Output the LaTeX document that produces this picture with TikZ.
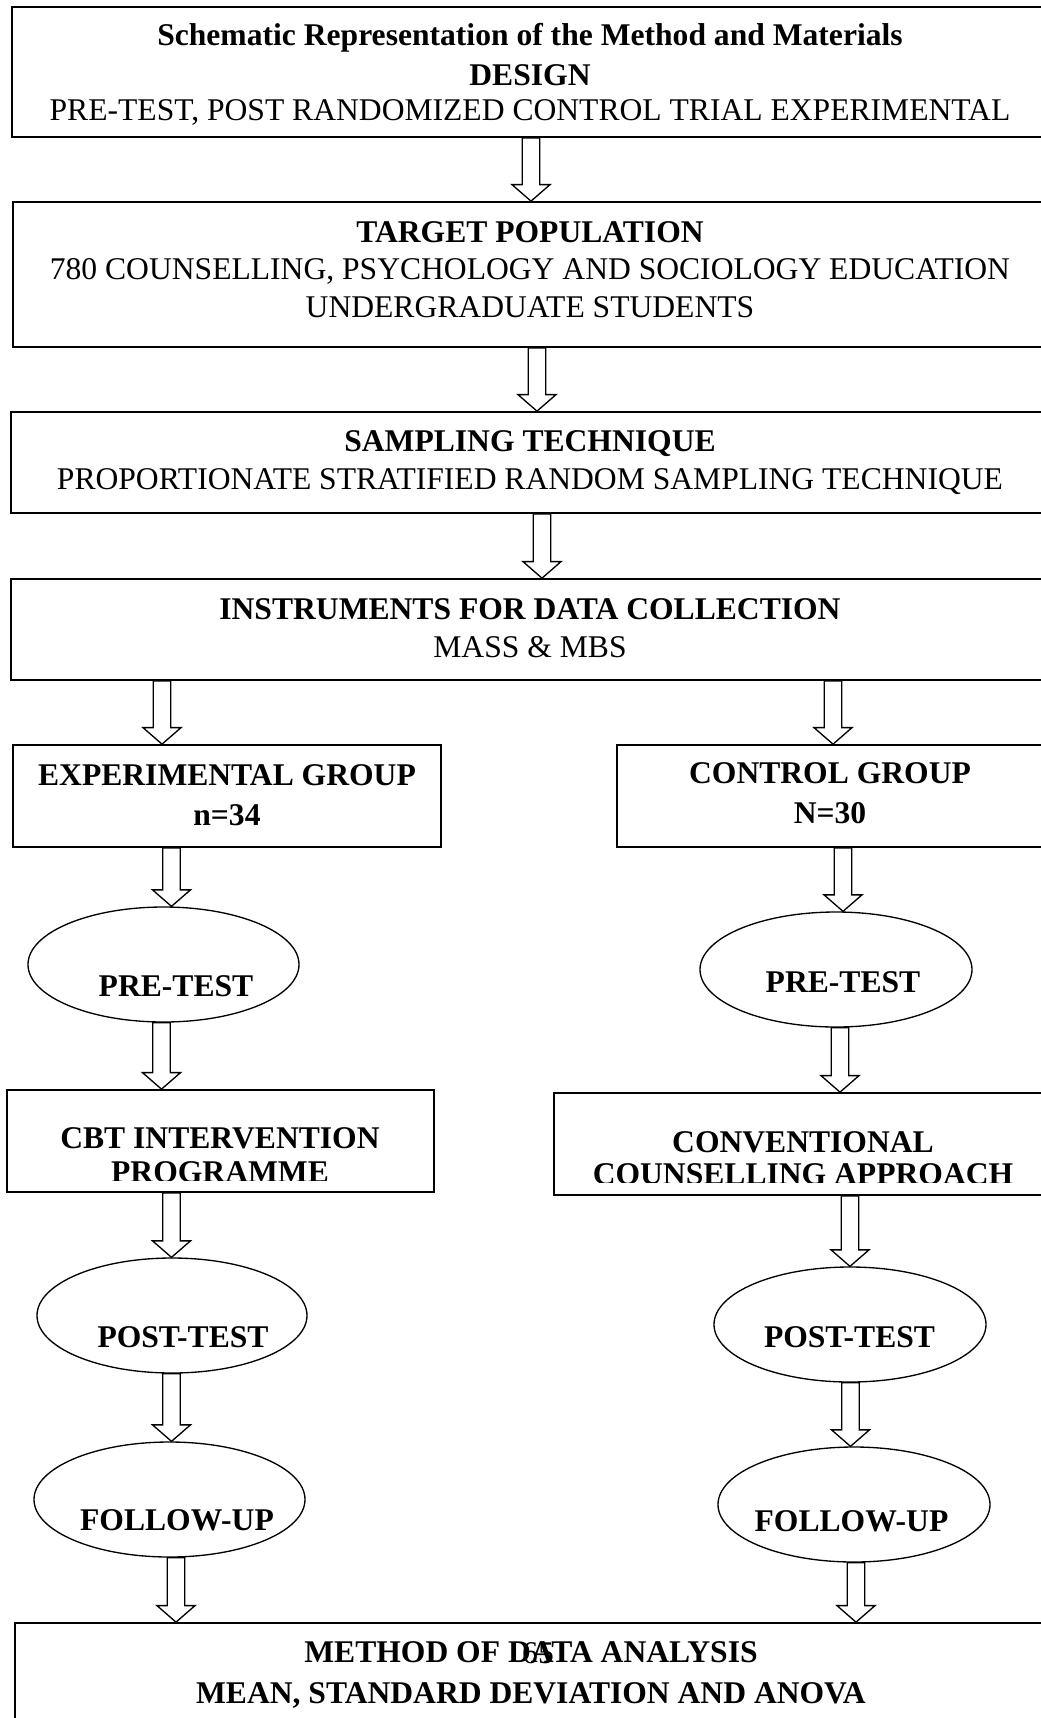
\documentclass[tikz,border=0pt]{standalone}
\usepackage{fontspec}
\setmainfont{Liberation Serif}
\usetikzlibrary{calc,fit,shapes.geometric}
\tikzset{
  box/.style={draw, line width=1.3pt, inner sep=0pt},
  ell/.style={draw, ellipse, line width=1pt, inner sep=0pt, minimum width=204pt, minimum height=86.25pt},
  txt/.style={anchor=base, inner sep=0pt, font=\fontsize{23.7}{28}\selectfont},
  btxt/.style={anchor=base, inner sep=0pt, font=\fontsize{23.7}{28}\selectfont\bfseries},
  arrline/.style={draw, fill=white, line width=1pt, line join=miter},
}
\newcommand\barr[3]{%
  \coordinate (bx) at (#1,0);
  \coordinate (bs) at (bx |- #2);
  \coordinate (bt) at (bx |- #3);
  \draw[arrline] ($(bs)+(-8.7,0)$) -- ($(bt)+(-8.7,-16.5)$) -- ($(bt)+(-19,-16.5)$) -- (bt)
    -- ($(bt)+(19,-16.5)$) -- ($(bt)+(8.7,-16.5)$) -- ($(bs)+(8.7,0)$) -- cycle;
}
\begin{document}
\begin{tikzpicture}[x=0.75pt, y=-0.75pt]
\useasboundingbox (0,0) rectangle (1041,1718);
\clip (0,0) rectangle (1041,1718);
\fill[white] (0,0) rectangle (1041,1718);

% boxes
\node[box, fit={(12,7) (1048,137)}] (design) {};
\node[box, fit={(13,202) (1048,347)}] (target) {};
\node[box, fit={(11,412) (1048,513)}] (sampling) {};
\node[box, fit={(11,579) (1048,680)}] (instr) {};
\node[box, fit={(13,745) (441,847)}] (exp) {};
\node[box, fit={(617,745) (1042,847)}] (ctrl) {};
\node[box, fit={(7,1090) (434,1192)}] (cbt) {};
\node[box, fit={(554,1093) (1060,1195)}] (conv) {};
\node[box, fit={(15,1623) (1048,1740)}] (analysis) {};

% ellipses
\node[ell, minimum width=203.25pt] (lpre) at (163.5,964.5) {};
\node[ell] (rpre) at (836,969.5) {};
\node[ell, minimum width=202.5pt] (lpost) at (172,1315.5) {};
\node[ell] (rpost) at (850,1324.5) {};
\node[ell, minimum width=203.25pt] (lfol) at (169.5,1499.5) {};
\node[ell] (rfol) at (854,1504.5) {};

% texts
\node[btxt] (t1a) at (530,45.5) {Schematic Representation of the Method and Materials};
\node[btxt] (t1b) at (530,85) {DESIGN};
\node[txt] (t1c) at (530,120) {PRE-TEST, POST RANDOMIZED CONTROL TRIAL EXPERIMENTAL};
\node[btxt] (t2a) at (530,242.5) {TARGET POPULATION};
\node[txt] (t2b) at (530,279) {780 COUNSELLING, PSYCHOLOGY AND SOCIOLOGY EDUCATION};
\node[txt] (t2c) at (530,317.5) {UNDERGRADUATE STUDENTS};
\node[btxt] (t3a) at (530,451) {SAMPLING TECHNIQUE};
\node[txt] (t3b) at (530,489.5) {PROPORTIONATE STRATIFIED RANDOM SAMPLING TECHNIQUE};
\node[btxt] (t4a) at (530,619.5) {INSTRUMENTS FOR DATA COLLECTION};
\node[txt] (t4b) at (530,657) {MASS \& MBS};
\node[btxt] (texa) at (227,785.5) {EXPERIMENTAL GROUP};
\node[btxt] (texb) at (227,825.5) {n=34};
\node[btxt] (tcta) at (830,783.5) {CONTROL GROUP};
\node[btxt] (tctb) at (830,823.5) {N=30};
\node[btxt] (tlpre) at (176,996.5) {PRE-TEST};
\node[btxt] (trpre) at (843,992) {PRE-TEST};
\begin{scope}
  \clip (7,1090) rectangle (434,1180);
  \node[btxt] (tcbta) at (220,1148) {CBT INTERVENTION};
  \node[btxt] (tcbtb) at (220,1182) {PROGRAMME};
\end{scope}
\begin{scope}
  \clip (554,1093) rectangle (1060,1182);
  \node[btxt] (tcva) at (803,1152) {CONVENTIONAL};
  \node[btxt] (tcvb) at (803,1184) {COUNSELLING APPROACH};
\end{scope}
\node[btxt] (tlpost) at (183,1347) {POST-TEST};
\node[btxt] (trpost) at (849.5,1347) {POST-TEST};
\node[btxt] (tlfol) at (177,1530) {FOLLOW-UP};
\node[btxt] (trfol) at (851.5,1531) {FOLLOW-UP};
\node[btxt] (tana) at (531,1662) {METHOD OF DATA ANALYSIS};
\node[btxt] (tanb) at (531,1703) {MEAN, STANDARD DEVIATION AND ANOVA};
\node[txt] (pgno) at (538,1663) {65};

% block arrows
\barr{531}{design.south}{target.north}
\barr{537}{target.south}{sampling.north}
\barr{542}{sampling.south}{instr.north}
\barr{162}{instr.south}{exp.north}
\barr{833}{instr.south}{ctrl.north}
\barr{171.5}{exp.south}{lpre.north}
\barr{843}{ctrl.south}{rpre.north}
\barr{161.5}{lpre.south}{cbt.north}
\barr{840}{rpre.south}{conv.north}
\barr{171.5}{cbt.south}{lpost.north}
\barr{850}{conv.south}{rpost.north}
\barr{171.5}{lpost.south}{lfol.north}
\barr{850.5}{rpost.south}{rfol.north}
\barr{176}{lfol.south}{analysis.north}
\barr{856}{rfol.south}{analysis.north}
\end{tikzpicture}
\end{document}
